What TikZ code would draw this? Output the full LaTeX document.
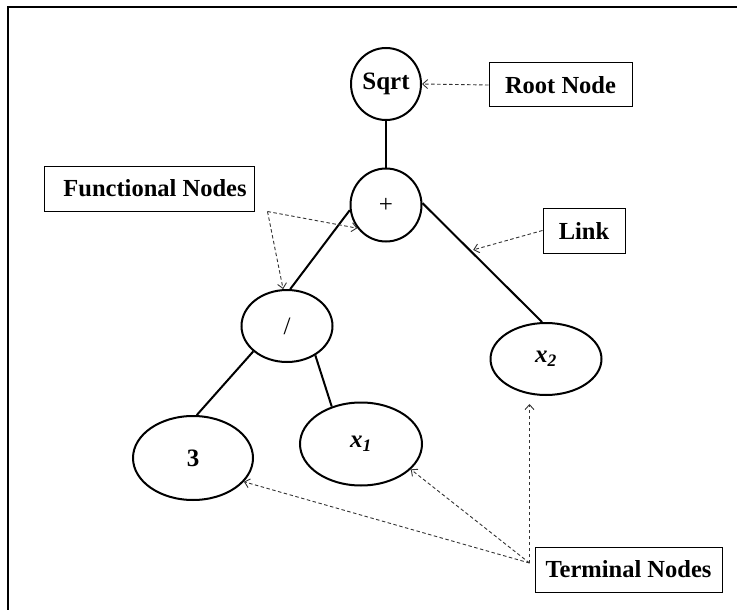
\documentclass[tikz,border=0pt]{standalone}
\usepackage{fontspec}
\setmainfont{Liberation Serif}
\usetikzlibrary{shapes.geometric,arrows.meta}
\begin{document}
\begin{tikzpicture}[x=1pt,y=-1pt,
  tnode/.style={ellipse,draw,line width=2pt,inner sep=0pt,font=\fontsize{25}{28}\selectfont},
  labelbox/.style={draw,line width=1pt,inner sep=0pt,font=\fontsize{24.5}{28}\selectfont\bfseries},
  treelink/.style={line width=2pt},
  pointer/.style={draw=black!80,line width=0.9pt,dash pattern=on 3.5pt off 2.5pt,-{Straight Barb[length=5pt,width=9pt]}}]
\useasboundingbox (0,0) rectangle (737,610);
\draw[line width=2pt] (737,7) -- (8,7) -- (8,610);

% tree nodes
\node[tnode,minimum width=70pt,minimum height=72pt,font=\fontsize{25}{28}\selectfont\bfseries] (sqrt) at (386,84) {Sqrt};
\node[tnode,minimum width=71pt,minimum height=73pt] (plus) at (386,205) {+};
\node[tnode,minimum width=91pt,minimum height=72pt] (div) at (287,326) {/};
\node[tnode,minimum width=111pt,minimum height=72pt] (x2) at (546,359) {\raisebox{-2pt}{\textbf{\textit{x}}\textsubscript{\textbf{\textit{2}}}}};
\node[tnode,minimum width=120pt,minimum height=84pt,font=\fontsize{25}{28}\selectfont\bfseries] (three) at (193,458) {3};
\node[tnode,minimum width=122pt,minimum height=83pt] (x1) at (361,444) {\raisebox{-2pt}{\textbf{\textit{x}}\textsubscript{\textbf{\textit{1}}}}};

% label boxes
\node[labelbox,minimum width=143pt,minimum height=44pt] (root) at (560.5,85) {Root Node\hspace{10pt}};
\node[labelbox,minimum width=210pt,minimum height=45pt] (func) at (149,188.5) {\hspace{12pt}Functional Nodes};
\node[labelbox,minimum width=82pt,minimum height=45pt] (lnk) at (584,230.5) {Link\hspace{10pt}};
\node[labelbox,minimum width=187pt,minimum height=45pt] (term) at (628.5,569.5) {Terminal Nodes};

% links
\draw[treelink] (sqrt) -- (plus);
\draw[treelink] (plus.188) -- (div.85);
\draw[treelink] (plus.3) -- coordinate[pos=0.4] (lk) (x2.96);
\draw[treelink] (div.217) -- (three.85);
\draw[treelink] (div.314) -- (x1.128);

% pointers
\draw[pointer] (root.west) -- (sqrt.east);
\coordinate (fo) at ([xshift=13pt]func.south east);
\draw[pointer] (fo) -- (plus.219);
\draw[pointer] (fo) -- (div.96);
\draw[pointer,shorten >=3pt] (lnk.west) -- (lk);
\coordinate (to) at ([xshift=-5pt,yshift=6.5pt]term.west);
\draw[pointer] (to) -- (three.335);
\draw[pointer] (to) -- (x1.333);
\draw[pointer,shorten >=8pt] (to) -- (to |- x2.south);
\end{tikzpicture}
\end{document}
